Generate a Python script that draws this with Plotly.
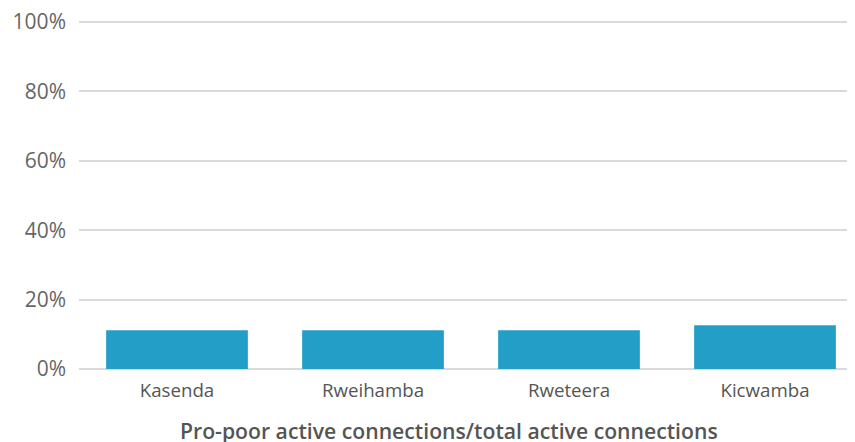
import plotly.graph_objects as go

categories = ["Kasenda", "Rweihamba", "Rweteera", "Kicwamba"]
values = [11.2, 11.2, 11.2, 12.6]
y_ticks = [0, 20, 40, 60, 80, 100]
y_tick_labels = ["0%", "20%", "40%", "60%", "80%", "100%"]
x_title = "Pro-poor active connections/total active connections"

FONT = "Open Sans, sans-serif"

fig = go.Figure(go.Bar(x=categories, y=values, marker_color="#239fc7", marker_line_width=0))

fig.update_layout(
    width=855, height=442,
    margin=dict(l=71, r=0, t=12, b=81),
    paper_bgcolor="white", plot_bgcolor="white",
    font=dict(family=FONT, color="#666666"),
    bargap=0.277,
    showlegend=False,
    annotations=[dict(text=x_title, xref="paper", yref="paper", x=0.472, y=-0.175,
                      xanchor="center", yanchor="middle", showarrow=False,
                      font=dict(size=21.2, color="#555555", family=FONT, weight=600))],
)
fig.update_xaxes(range=[-0.5, 3.5], showgrid=False, showline=False, ticks="",
                 automargin=False, tickfont=dict(size=18.7, color="#555555"),
                 ticklabelstandoff=8, ticklabeloverflow="allow")
fig.update_yaxes(range=[0, 100.6], tickvals=y_ticks, ticktext=y_tick_labels,
                 gridcolor="#d9d9d9", gridwidth=1.5, zeroline=True, zerolinecolor="#d9d9d9",
                 zerolinewidth=1.5, tickfont=dict(size=21, color="#666666"),
                 automargin=False, ticklabelstandoff=12, ticklabeloverflow="allow")

fig.write_html("out.html")
